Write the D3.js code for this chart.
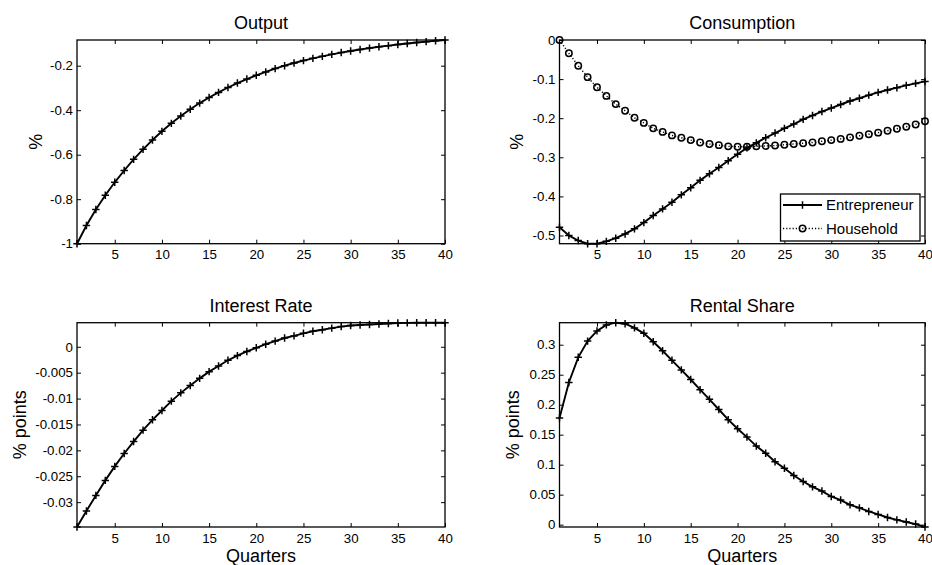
<!DOCTYPE html>
<html>
<head>
<meta charset="utf-8">
<script src="https://cdn.jsdelivr.net/npm/d3@7"></script>
<style>
  html, body { margin: 0; padding: 0; background: #fff; }
  svg { display: block; }
  text { font-family: 'Liberation Sans', Arial, Helvetica, sans-serif; fill: #000; }
</style>
</head>
<body>
<svg id="chart" width="932" height="565"></svg>
<script>
// ---------------- DATA ----------------
const quarters = [1,2,3,4,5,6,7,8,9,10,11,12,13,14,15,16,17,18,19,20,
                  21,22,23,24,25,26,27,28,29,30,31,32,33,34,35,36,37,38,39,40];

const outputValues = [-1.000,-0.918,-0.846,-0.782,-0.724,-0.671,-0.621,-0.576,-0.534,-0.495,
                      -0.459,-0.426,-0.396,-0.368,-0.343,-0.320,-0.298,-0.278,-0.260,-0.243,
                      -0.228,-0.213,-0.200,-0.188,-0.177,-0.167,-0.158,-0.149,-0.141,-0.134,
                      -0.127,-0.121,-0.115,-0.110,-0.105,-0.100,-0.096,-0.092,-0.088,-0.0845];

const entrepreneurValues = [-0.479,-0.500,-0.513,-0.521,-0.521,-0.515,-0.507,-0.496,-0.483,-0.467,
                            -0.449,-0.432,-0.415,-0.396,-0.378,-0.359,-0.342,-0.326,-0.309,-0.292,
                            -0.276,-0.263,-0.250,-0.238,-0.226,-0.215,-0.203,-0.193,-0.183,-0.174,
                            -0.165,-0.156,-0.149,-0.141,-0.134,-0.128,-0.122,-0.116,-0.111,-0.106];

const householdValues = [0.000,-0.034,-0.066,-0.095,-0.121,-0.143,-0.164,-0.181,-0.199,-0.212,
                         -0.226,-0.235,-0.244,-0.250,-0.256,-0.262,-0.266,-0.269,-0.272,-0.273,
                         -0.273,-0.272,-0.271,-0.270,-0.268,-0.266,-0.264,-0.262,-0.259,-0.256,
                         -0.253,-0.249,-0.245,-0.241,-0.237,-0.232,-0.227,-0.222,-0.216,-0.208];

const interestValues = [-0.0348,-0.0317,-0.0287,-0.0258,-0.0231,-0.0206,-0.0183,-0.0161,-0.0141,-0.0123,
                        -0.0105,-0.0089,-0.0075,-0.0061,-0.0048,-0.0037,-0.0026,-0.0017,-0.0009,-0.0002,
                        0.0005,0.0011,0.0017,0.0021,0.0026,0.0030,0.0033,0.0036,0.0039,0.0041,
                        0.0042,0.0043,0.0044,0.0045,0.00458,0.00462,0.00464,0.00465,0.00465,0.00465];

const rentalValues = [0.178,0.237,0.279,0.306,0.323,0.333,0.3367,0.335,0.328,0.319,
                      0.305,0.290,0.274,0.258,0.242,0.225,0.209,0.192,0.175,0.160,
                      0.146,0.131,0.119,0.105,0.094,0.082,0.072,0.063,0.056,0.047,
                      0.041,0.033,0.028,0.022,0.017,0.012,0.008,0.0045,0.001,-0.0039];

const xTicks = [5,10,15,20,25,30,35,40];
const outputTicks = [-1,-0.8,-0.6,-0.4,-0.2];
const outputTickLabels = ["-1","-0.8","-0.6","-0.4","-0.2"];
const consumptionTicks = [-0.5,-0.4,-0.3,-0.2,-0.1,0];
const consumptionTickLabels = ["-0.5","-0.4","-0.3","-0.2","-0.1","0"];
const interestTicks = [-0.03,-0.025,-0.02,-0.015,-0.01,-0.005,0];
const interestTickLabels = ["-0.03","-0.025","-0.02","-0.015","-0.01","-0.005","0"];
const rentalTicks = [0,0.05,0.1,0.15,0.2,0.25,0.3];
const rentalTickLabels = ["0","0.05","0.1","0.15","0.2","0.25","0.3"];

const titles = ["Output","Consumption","Interest Rate","Rental Share"];
const yLabels = ["%","%","% points","% points"];
const xLabel = "Quarters";
const legendLabels = ["Entrepreneur","Household"];

// ---------------- DRAW ----------------
const svg = d3.select("#chart");

const panels = [
  { title: titles[0], ylab: yLabels[0], series: [{v: outputValues, type: "plus"}],
    ticks: outputTicks, labels: outputTickLabels,
    x0: 77, x1: 445, y0: 40, y1: 243.7, ylabX: 41.5, xlab: false },
  { title: titles[1], ylab: yLabels[1],
    series: [{v: entrepreneurValues, type: "plus"}, {v: householdValues, type: "circle"}],
    ticks: consumptionTicks, labels: consumptionTickLabels,
    x0: 559.5, x1: 925, y0: 40, y1: 243.7, ylabX: 523, xlab: false, legend: true },
  { title: titles[2], ylab: yLabels[2], series: [{v: interestValues, type: "plus"}],
    ticks: interestTicks, labels: interestTickLabels,
    x0: 77, x1: 445, y0: 322.7, y1: 527, ylabX: 25.5, xlab: true },
  { title: titles[3], ylab: yLabels[3], series: [{v: rentalValues, type: "plus"}],
    ticks: rentalTicks, labels: rentalTickLabels,
    x0: 559.5, x1: 925, y0: 322.7, y1: 527, ylabX: 519, xlab: true }
];

const TICK = 4;

panels.forEach(p => {
  const all = p.series.flatMap(s => s.v);
  const x = d3.scaleLinear().domain([quarters[0], quarters[quarters.length-1]]).range([p.x0, p.x1]);
  const y = d3.scaleLinear().domain(d3.extent(all)).range([p.y1, p.y0]);
  const g = svg.append("g");

  const cid = "clip" + Math.round(p.x0) + "_" + Math.round(p.y0);
  svg.append("clipPath").attr("id", cid).append("rect")
    .attr("x", p.x0 - 5).attr("y", p.y0 - 5).attr("width", p.x1 - p.x0 + 10).attr("height", p.y1 - p.y0 + 10);

  const fmtY = d => p.labels[p.ticks.indexOf(d)];
  const axB = g.append("g").attr("transform", `translate(0,${p.y1})`)
    .call(d3.axisBottom(x).tickValues(xTicks).tickSizeInner(-TICK).tickSizeOuter(0).tickPadding(6).tickFormat(d => String(d)));
  const axT = g.append("g").attr("transform", `translate(0,${p.y0})`)
    .call(d3.axisTop(x).tickValues(xTicks).tickSizeInner(-TICK).tickSizeOuter(0).tickFormat(""));
  const axL = g.append("g").attr("transform", `translate(${p.x0},0)`)
    .call(d3.axisLeft(y).tickValues(p.ticks).tickSizeInner(-TICK).tickSizeOuter(0).tickPadding(4).tickFormat(fmtY));
  const axR = g.append("g").attr("transform", `translate(${p.x1},0)`)
    .call(d3.axisRight(y).tickValues(p.ticks).tickSizeInner(-TICK).tickSizeOuter(0).tickFormat(""));
  [axB, axT, axL, axR].forEach(a => {
    a.select(".domain").remove();
    a.selectAll(".tick line").attr("stroke", "#000").attr("stroke-width", 1);
    a.selectAll("text").attr("font-size", 13.3).attr("fill", "#000")
      .attr("font-family", "'Liberation Sans', Arial, sans-serif");
  });
  axB.selectAll("text").attr("dy", null).attr("y", 15.5);

  g.append("rect").attr("x", p.x0).attr("y", p.y0)
    .attr("width", p.x1 - p.x0).attr("height", p.y1 - p.y0)
    .attr("fill", "none").attr("stroke", "#000").attr("stroke-width", 1.3);

  const line = d3.line().x((d, i) => x(quarters[i])).y(d => y(d));
  const sg = g.append("g").attr("clip-path", `url(#${cid})`);
  p.series.forEach(s => {
    if (s.type === "plus") {
      sg.append("path").datum(s.v).attr("d", line)
        .attr("fill", "none").attr("stroke", "#000").attr("stroke-width", 1.9);
      sg.selectAll(null).data(s.v).enter().append("path")
        .attr("d", (d, i) => {
          const cx = x(quarters[i]), cy = y(d), r = 3.7;
          return `M${cx - r},${cy}H${cx + r}M${cx},${cy - r}V${cy + r}`;
        })
        .attr("stroke", "#000").attr("stroke-width", 1.5).attr("fill", "none");
    } else {
      sg.append("path").datum(s.v).attr("d", line)
        .attr("fill", "none").attr("stroke", "#000").attr("stroke-width", 1.4)
        .attr("stroke-dasharray", "1.2,2");
      sg.selectAll(null).data(s.v).enter().append("circle")
        .attr("cx", (d, i) => x(quarters[i])).attr("cy", d => y(d)).attr("r", 3.2)
        .attr("fill", "none").attr("stroke", "#000").attr("stroke-width", 1.5);
    }
  });

  g.append("text").attr("x", (p.x0 + p.x1) / 2).attr("y", p.y0 - 11)
    .attr("text-anchor", "middle").attr("font-size", 18).text(p.title);

  g.append("text")
    .attr("transform", `translate(${p.ylabX},${(p.y0 + p.y1) / 2}) rotate(-90)`)
    .attr("text-anchor", "middle").attr("font-size", 18).text(p.ylab);

  if (p.xlab) {
    g.append("text").attr("x", (p.x0 + p.x1) / 2).attr("y", 561.5)
      .attr("text-anchor", "middle").attr("font-size", 18).text(xLabel);
  }

  if (p.legend) {
    const lg = g.append("g");
    lg.append("rect").attr("x", 780.5).attr("y", 194).attr("width", 139.5).attr("height", 47)
      .attr("fill", "#fff").attr("stroke", "#000").attr("stroke-width", 1.3);
    const rows = [205, 228.5];
    lg.append("line").attr("x1", 783).attr("x2", 822).attr("y1", rows[0]).attr("y2", rows[0])
      .attr("stroke", "#000").attr("stroke-width", 1.9);
    lg.append("path").attr("d", `M${802.5 - 3.7},${rows[0]}H${802.5 + 3.7}M802.5,${rows[0] - 3.7}V${rows[0] + 3.7}`)
      .attr("stroke", "#000").attr("stroke-width", 1.5);
    lg.append("line").attr("x1", 783).attr("x2", 822).attr("y1", rows[1]).attr("y2", rows[1])
      .attr("stroke", "#000").attr("stroke-width", 1.4).attr("stroke-dasharray", "1.2,2");
    lg.append("circle").attr("cx", 802.5).attr("cy", rows[1]).attr("r", 3.2)
      .attr("fill", "none").attr("stroke", "#000").attr("stroke-width", 1.5);
    legendLabels.forEach((t, i) => {
      lg.append("text").attr("x", 826).attr("y", rows[i]).attr("dy", "0.36em")
        .attr("font-size", 15).text(t);
    });
  }
});
</script>
</body>
</html>
